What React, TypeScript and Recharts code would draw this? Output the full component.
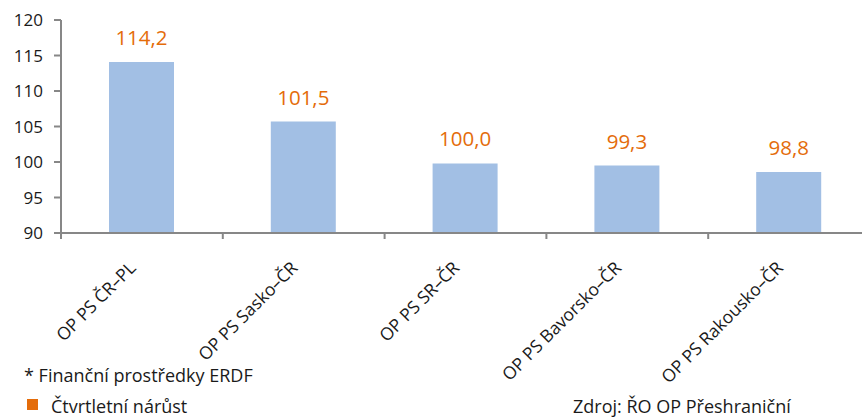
import React from "react";
import { BarChart, Bar, XAxis, YAxis, LabelList } from "recharts";

const categories = [
  "OP PS ČR–PL",
  "OP PS Sasko–ČR",
  "OP PS SR–ČR",
  "OP PS Bavorsko–ČR",
  "OP PS Rakousko–ČR",
];
// bar heights as drawn
const barValues = [114.1, 105.7, 99.8, 99.5, 98.6];
// printed labels above bars
const labelValues = ["114,2", "101,5", "100,0", "99,3", "98,8"];
const yTicks = [90, 95, 100, 105, 110, 115, 120];

const data = categories.map((name, i) => ({
  name,
  value: barValues[i],
  label: labelValues[i],
}));

const FONT = "'Open Sans', 'Noto Sans', sans-serif";
const AXIS = "#878787";
const HALF_BAND = 80.9;

function CategoryTick(props: any) {
  const { x, y, payload } = props;
  const ax = x - 5;
  const ay = y + 28;
  return (
    <g>
      <line x1={x - HALF_BAND} y1={y - 8} x2={x - HALF_BAND} y2={y - 2} stroke={AXIS} strokeWidth={2} />
      <text
        x={ax}
        y={ay}
        transform={`rotate(-45 ${ax} ${ay})`}
        textAnchor="end"
        fontSize={17.5}
        fill="#1a1a1a"
        fontFamily={FONT}
      >
        {payload.value}
      </text>
    </g>
  );
}

const note: React.CSSProperties = {
  position: "absolute",
  fontSize: 18,
  lineHeight: 1,
  color: "#1a1a1a",
  whiteSpace: "nowrap",
};

export default function App() {
  return (
    <div
      style={{
        position: "absolute",
        left: 0,
        top: 0,
        width: 862,
        height: 418,
        overflow: "hidden",
        background: "#fff",
        fontFamily: FONT,
      }}
    >
      <BarChart
        width={870}
        height={418}
        data={data}
        margin={{ top: 20, right: 0, left: 0, bottom: 0 }}
      >
        <XAxis
          dataKey="name"
          height={185}
          interval={0}
          axisLine={{ stroke: AXIS, strokeWidth: 2 }}
          tickLine={false}
          tick={<CategoryTick />}
        />
        <YAxis
          width={61}
          domain={[90, 120]}
          ticks={yTicks}
          interval={0}
          axisLine={{ stroke: AXIS, strokeWidth: 2 }}
          tickLine={{ stroke: AXIS, strokeWidth: 2 }}
          tickSize={7}
          tickMargin={11}
          tick={{ fill: "#1a1a1a", fontSize: 17, fontFamily: FONT }}
        />
        <Bar dataKey="value" fill="#A2BFE4" barSize={65} isAnimationActive={false}>
          <LabelList
            dataKey="label"
            position="top"
            offset={17}
            fill="#E46C0A"
            fontSize={20.5}
            fontFamily={FONT}
          />
        </Bar>
      </BarChart>
      <div style={{ ...note, left: 24, top: 366 }}>* Finanční prostředky ERDF</div>
      <div style={{ position: "absolute", left: 27, top: 399, width: 11, height: 11, background: "#E46C0A" }} />
      <div style={{ ...note, left: 51, top: 397 }}>Čtvrtletní nárůst</div>
      <div style={{ ...note, left: 573, top: 397 }}>Zdroj: ŘO OP Přeshraniční</div>
    </div>
  );
}
